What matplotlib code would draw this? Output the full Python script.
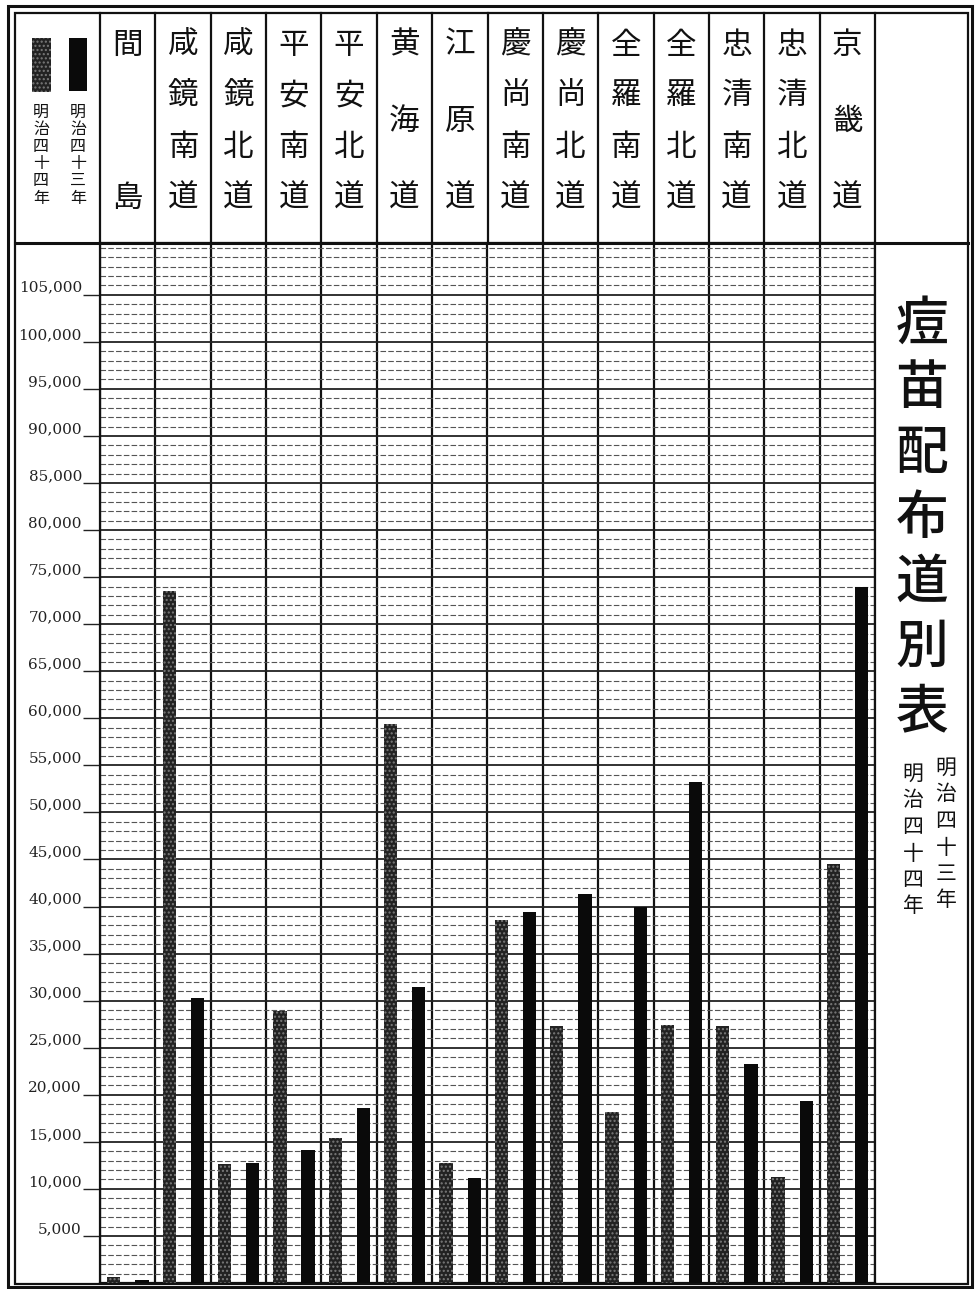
import numpy as np
import matplotlib
matplotlib.use("Agg")
import matplotlib.pyplot as plt

# data
provinces = ["間島", "咸鏡南道", "咸鏡北道", "平安南道", "平安北道", "黄海道", "江原道",
             "慶尚南道", "慶尚北道", "全羅南道", "全羅北道", "忠清南道", "忠清北道", "京畿道"]
meiji44 = [600, 73560, 12650, 28900, 15400, 59400, 12760, 38600, 27300, 18200, 27400, 27300, 11300, 44500]
meiji43 = [300, 30300, 12760, 14100, 18600, 31400, 11160, 39400, 41350, 39950, 53250, 23300, 19350, 73900]
year_labels = ["明治四十四年", "明治四十三年"]
title = "痘苗配布道別表"
yticks = list(range(5000, 110000, 5000))

cjk = ["Noto Sans CJK JP", "DejaVu Sans"]
W, H = 975, 1289
x_left, x_right = 100, 875
y_head, y_bot = 243, 1283
col_w = (x_right - x_left) / len(provinces)

fig = plt.figure(figsize=(W / 100, H / 100), dpi=100)
fig.patch.set_facecolor("white")

# background layer in pixel coords for the table frame and header
bg = fig.add_axes([0, 0, 1, 1])
bg.set_xlim(0, W)
bg.set_ylim(H, 0)
bg.axis("off")

bg.add_patch(plt.Rectangle((8, 6), 964, 1281, fill=False, lw=2.2, ec="#111"))
bg.add_patch(plt.Rectangle((15, 13), 953, 1271, fill=False, lw=1.6, ec="#111"))
bg.plot([15, 968], [y_head, y_head], color="#111", lw=2.2)
for i in range(len(provinces) + 1):
    xx = x_left + i * col_w
    bg.plot([xx, xx], [13, y_head], color="#111", lw=1.6)

# header names, written vertically
for i, name in enumerate(provinces):
    cx = x_left + (i + 0.5) * col_w
    n = len(name)
    ys = np.linspace(45, 198, n)
    for ch, yy in zip(name, ys):
        bg.text(cx, yy, ch, ha="center", va="center", fontsize=22, family=cjk, color="#111")

# legend in the first column
mottled = dict(facecolor="#222222", edgecolor="#7a7a7a", hatch="....", linewidth=0)
solid = dict(facecolor="#0a0a0a", edgecolor="#0a0a0a", linewidth=0)
bg.add_patch(plt.Rectangle((32, 38), 19, 54, **mottled))
bg.add_patch(plt.Rectangle((69, 38), 18, 53, **solid))
for lx, lab in zip([41, 78], year_labels):
    for ch, yy in zip(lab, np.linspace(112, 198, len(lab))):
        bg.text(lx, yy, ch, ha="center", va="center", fontsize=11.5, family=cjk, color="#111")

# title column
for ch, yy in zip(title, np.linspace(325, 712, len(title))):
    bg.text(922, yy, ch, ha="center", va="center", fontsize=38, family=cjk,
            weight="medium", color="#111")
for lx, y0, lab in [(946, 768, year_labels[1]), (913, 774, year_labels[0])]:
    for k, ch in enumerate(lab):
        bg.text(lx, y0 + k * 26.5, ch, ha="center", va="center", fontsize=15, family=cjk, color="#111")

# main chart body
ax = fig.add_axes([x_left / W, (H - y_bot) / H, (x_right - x_left) / W, (y_bot - y_head) / H])
ax.set_facecolor("none")
ax.set_xlim(0, len(provinces))
ax.set_ylim(0, 110500)

x = np.arange(len(provinces))
ax.bar(x + 0.25, meiji44, width=0.24, zorder=3, **mottled)
ax.bar(x + 0.76, meiji43, width=0.24, zorder=3, **solid)

ax.set_yticks(yticks)
ax.set_yticklabels([f"{v:,}" for v in yticks], family="DejaVu Serif", fontsize=11, color="#222")
for lbl in ax.get_yticklabels():
    lbl.set_va("bottom")
ax.set_yticks(np.arange(1000, 110500, 1000), minor=True)
ax.tick_params(axis="y", which="major", length=12, width=1.0, pad=1, color="#222")
ax.tick_params(axis="y", which="minor", length=0)
ax.set_xticks(np.arange(len(provinces) + 1))
ax.tick_params(axis="x", length=0, labelbottom=False)

ax.set_axisbelow(True)
ax.grid(which="minor", axis="y", color="#555", lw=0.8, linestyle=(0, (5, 2)))
ax.grid(which="major", axis="y", color="#222", lw=1.3)
ax.grid(which="major", axis="x", color="#111", lw=1.6)
for s in ax.spines.values():
    s.set_linewidth(1.6)
    s.set_color("#111")

fig.savefig("out.png", dpi=100)
